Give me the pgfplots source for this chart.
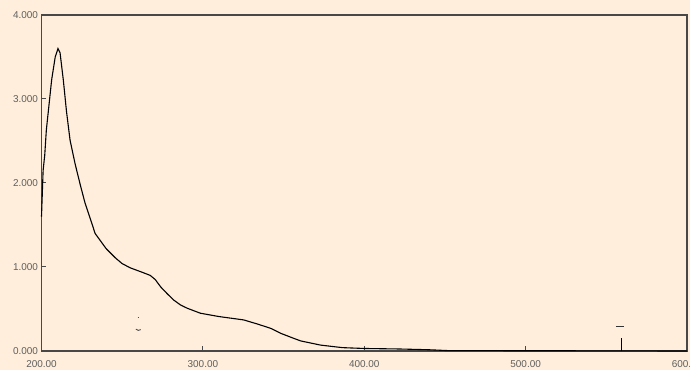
\documentclass[border=0pt]{standalone}
\usepackage{pgfplots}
\pgfplotsset{compat=1.18}
\usepackage{fontspec}
\setmainfont{Liberation Sans}
\usetikzlibrary{backgrounds}
\definecolor{bgc}{RGB}{254,238,219}
\definecolor{framec}{RGB}{72,72,72}
\definecolor{labc}{RGB}{95,95,95}
\begin{document}
\begin{tikzpicture}
\begin{axis}[name=ax,
  scale only axis,
  width=645.5bp, height=336bp,
  xmin=200, xmax=600, ymin=0, ymax=4,
  xtick={200,300,400,500,600},
  ytick={0,1,2,3,4},
  tick pos=left,
  tick align=inside,
  major tick length=5bp,
  axis line style={framec, line width=1.2bp},
  every tick/.style={framec, line width=1bp},
  axis background/.style={fill=bgc},
  /pgf/number format/assume math mode=true,
  xticklabel style={/pgf/number format/fixed, /pgf/number format/fixed zerofill, /pgf/number format/precision=2, font=\fontsize{10}{12}\selectfont, text=labc, yshift=-6bp},
  yticklabel style={/pgf/number format/fixed, /pgf/number format/fixed zerofill, /pgf/number format/precision=3, font=\fontsize{10}{12}\selectfont, text=labc, xshift=0bp},
  scaled ticks=false,
  clip=false,
]
\addplot[black, line width=1.1bp, mark=none] coordinates {
(200,1.60) (201,2.15) (202,2.33) (203,2.63) (206.3,3.23) (208.5,3.50) (210.2,3.60)
(211.5,3.55) (213.5,3.23) (215.5,2.85) (217.7,2.51) (220.8,2.23) (224,1.98)
(227,1.76) (231.2,1.52) (233.2,1.40) (240,1.22) (245.7,1.11) (250,1.04)
(255,0.99) (262,0.94) (267.4,0.90) (270.5,0.85) (274,0.76) (278,0.68)
(281.9,0.607) (286,0.55) (290.2,0.51) (298.4,0.45) (310,0.41) (325.3,0.37)
(334,0.32) (342,0.27) (348.3,0.21) (356.4,0.15) (360.6,0.12) (373,0.07)
(386.5,0.04) (400,0.03) (421.6,0.024) (440,0.015) (451.7,0.005) (500,0.003)
(550,0.002) (595,0.0) (600,0.0)
};
\addplot[black, line width=1.1bp, mark=none] coordinates {(559.5,0) (559.5,0.15)};
\addplot[black!80, line width=1.1bp, mark=none] coordinates {(556,0.29) (561,0.29)};
\addplot[black!70, line width=0.8bp, mark=none] coordinates {(259.6,0.40) (260.0,0.40)};
\addplot[black!70, line width=0.9bp, mark=none] coordinates {(258.5,0.26) (260,0.245) (261.5,0.255)};
\end{axis}
\begin{scope}[on background layer]
\fill[bgc] ([xshift=-41.5bp,yshift=-19bp]ax.south west) rectangle ([xshift=3bp,yshift=15bp]ax.north east);
\end{scope}
\pgfresetboundingbox
\useasboundingbox ([xshift=-41.5bp,yshift=-19bp]ax.south west) rectangle ([xshift=3bp,yshift=15bp]ax.north east);
\end{tikzpicture}
\end{document}
